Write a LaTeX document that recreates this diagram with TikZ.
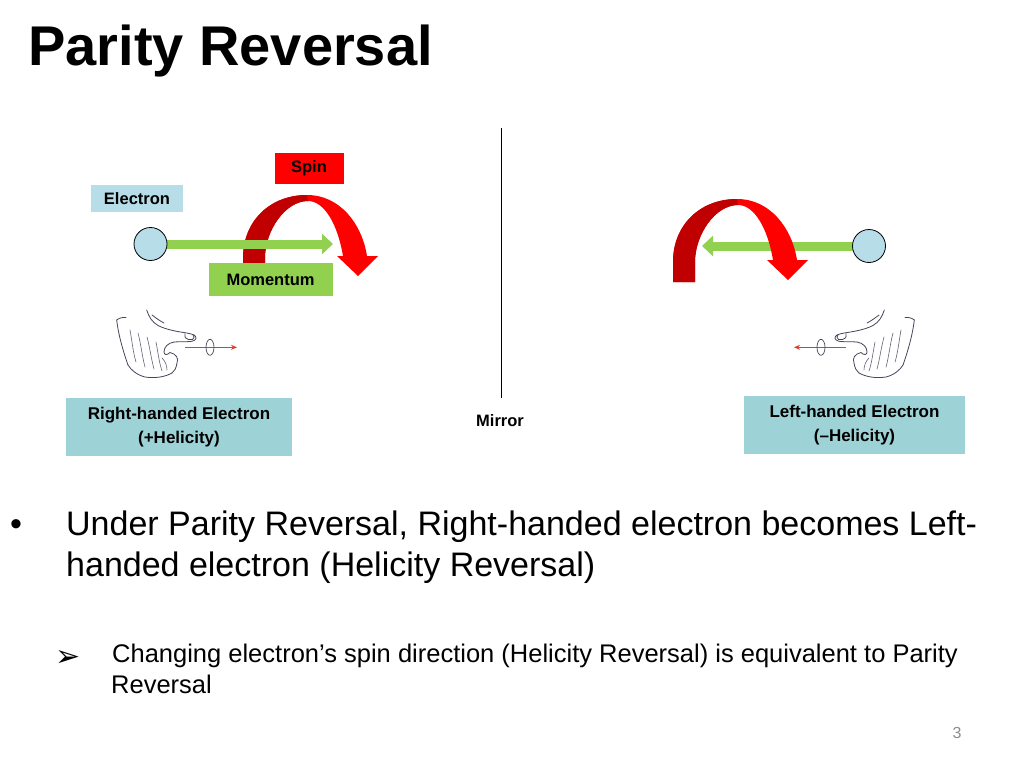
\documentclass[tikz,border=0pt]{standalone}
\usepackage{fontspec}
\setmainfont{Liberation Sans}
\newfontfamily\dejavu{DejaVu Sans}
\usetikzlibrary{arrows.meta,backgrounds}
\definecolor{elecblue}{HTML}{B7DDE8}
\definecolor{boxteal}{HTML}{9DD2D7}
\definecolor{momgreen}{HTML}{92D050}
\definecolor{spinred}{HTML}{FF0000}
\definecolor{spindark}{HTML}{C00000}
\definecolor{handgray}{HTML}{454659}
\definecolor{handred}{HTML}{D9412F}
\definecolor{pagegray}{HTML}{8C8C8C}
\tikzset{
  lbl/.style={font=\bfseries\fontsize{16.5}{19}\selectfont, inner sep=0pt, text=black},
  biglbl/.style={font=\bfseries\fontsize{17}{23.5}\selectfont, inner sep=0pt, text=black, align=center, fill=boxteal},
  particle/.style={circle, draw=black, line width=0.8pt, fill=elecblue, minimum size=33pt, inner sep=0pt},
  momarrow/.style={draw=momgreen, line width=9pt, -{Triangle[length=11pt,width=20pt,color=momgreen]}},
  handline/.style={draw=handgray, line width=0.8pt, line cap=round, line join=round},
  fingerline/.style={draw=handgray!85, line width=0.6pt, line cap=round},
  handarrow/.style={draw=handred, line width=1.2pt, -{Stealth[length=6pt,width=5pt,color=handred]}},
  bodytext/.style={anchor=base west, inner sep=0pt, font=\fontsize{34}{40}\selectfont},
  subtext/.style={anchor=base west, inner sep=0pt, font=\fontsize{25.5}{30}\selectfont},
  spinarrow/.pic={
    \fill[spinred] (0,0) -- (0,-20) .. controls (0,-57) and (27,-83) .. (64,-83)
      .. controls (97,-83) and (119,-54) .. (124,-22) -- (135,-22) -- (115,-2) -- (94,-22) -- (100,-22)
      .. controls (95,-52) and (82,-77) .. (65,-77)
      .. controls (42,-77) and (22,-47) .. (22,-20) -- (22,0) -- cycle;
    \fill[spindark] (0,0) -- (0,-20) .. controls (0,-57) and (27,-83) .. (64,-83)
      -- (65,-77) .. controls (42,-77) and (22,-47) .. (22,-20) -- (22,0) -- cycle;
  }
}
% hand drawing; #1 = +1 (as drawn) or -1 (mirrored about x = 515.5)
\newcommand\myhanddrawing[1]{%
  \begin{scope}[x={(#1*1pt,0pt)}, xshift={(1-#1)*515.5pt}]
    \draw[handline] (146.7,310) .. controls (149,317) and (152,322) .. (158,325.5)
      .. controls (163,328) and (168,329.5) .. (175,331)
      .. controls (182,332.5) and (190,333) .. (194,335)
      .. controls (197,337) and (197,340) .. (192,341.3)
      .. controls (187,342) and (180,341.5) .. (174,342);
    \draw[handline] (152,315) .. controls (156,318) and (160,321) .. (164,323);
    \draw[handline] (185,333.8) .. controls (184.5,337) and (185.5,339.5) .. (188.5,339.5) -- (192.5,339.5)
      .. controls (194.5,338.5) and (194.5,336) .. (193,334.8);
    \draw[handline] (174,342) .. controls (168,343) and (164,347) .. (164,352)
      .. controls (164,355) and (167,355.5) .. (170,352.5)
      .. controls (176,354) and (179,358) .. (177,363)
      .. controls (176,368) and (175,371) .. (172,373);
    \draw[handline] (172,373) .. controls (165,377) and (155,378.5) .. (145,377)
      .. controls (137,375) and (131,370) .. (128,365);
    \draw[handline] (116.7,320) .. controls (118,332) and (122,348) .. (128,365);
    \draw[handline] (116.7,320) .. controls (119,318) and (123,317) .. (126,317.5);
    \draw[fingerline] (130,330) .. controls (132,341) and (133,352) .. (136,362);
    \draw[fingerline] (138,333) .. controls (141,344) and (142,356) .. (145,367);
    \draw[fingerline] (147,337) .. controls (150,348) and (151,358) .. (154,369);
    \draw[fingerline] (156,342) .. controls (158,352) and (159,362) .. (162,371);
    \draw[fingerline] (162,358) .. controls (165,361) and (167,365) .. (167,370);
    \coordinate (ha1) at (185,347.3);
    \coordinate (ha2) at (237,347.3);
    \draw[handarrow] (ha1) -- (ha2);
    \draw[handgray, line width=0.7pt] (210,347.3) ellipse [x radius=4pt, y radius=8pt];
  \end{scope}%
}
\begin{document}
\begin{tikzpicture}[x=1pt,y=-1pt]
\useasboundingbox (0,0) rectangle (1024,768);
\begin{scope}[on background layer]
  \fill[white] (0,0) rectangle (1024,768);
\end{scope}

% title
\node[anchor=base west, inner sep=0pt, font=\bfseries\fontsize{56}{62}\selectfont] (title) at (28,66) {Parity Reversal};

% mirror
\coordinate (mtop) at (501,128);
\coordinate (mbot) at (501,398);
\draw[line width=1pt] (mtop) -- (mbot);
\node[lbl] (mirror) at (500,421) {Mirror};

% left: right-handed electron
\node[particle] (e1) at (150.5,244) {};
\coordinate (p1) at (333,244);
\begin{scope}[on background layer]
  \pic at (243,278) {spinarrow};
  \draw[momarrow] (e1.center) -- (p1);
\end{scope}
\node[lbl, fill=spinred, minimum width=69pt, minimum height=31pt] (spin) at (309,168.5) {Spin};
\node[lbl, fill=elecblue, minimum width=92pt, minimum height=27pt] (elec) at (137,198.5) {Electron};
\node[lbl, fill=momgreen, minimum width=124pt, minimum height=33pt] (mom) at (270.5,279.5) {Momentum};

% right: left-handed electron
\node[particle] (e2) at (869,246) {};
\coordinate (p2) at (702,246);
\begin{scope}[on background layer]
  \draw[momarrow] (e2.center) -- (p2);
  \pic at (673,282) {spinarrow};
\end{scope}

% hands
\myhanddrawing{1}
\myhanddrawing{-1}

% helicity boxes
\node[biglbl, minimum width=226pt, minimum height=58pt] (rh) at (179,427) {Right-handed Electron\\(+Helicity)};
\node[biglbl, minimum width=221pt, minimum height=58pt] (lh) at (854.5,425) {Left-handed Electron\\(–Helicity)};

% bullets
\node[bodytext] (bul1) at (10,535.7) {•};
\node[bodytext] (t1) at (66,535.7) {Under Parity Reversal, Right-handed electron becomes Left-};
\node[bodytext] (t2) at (66,576) {handed electron (Helicity Reversal)};
\node[anchor=base west, inner sep=0pt, font=\dejavu\fontsize{30}{34}\selectfont] (bul2) at (55,666) {➢};
\node[subtext] (s1) at (112,662.7) {Changing electron’s spin direction (Helicity Reversal) is equivalent to Parity};
\node[subtext] (s2) at (111,693.3) {Reversal};

% page number
\node[text=pagegray, font=\fontsize{16}{18}\selectfont, inner sep=0pt] (pg) at (957,733) {3};
\end{tikzpicture}
\end{document}
